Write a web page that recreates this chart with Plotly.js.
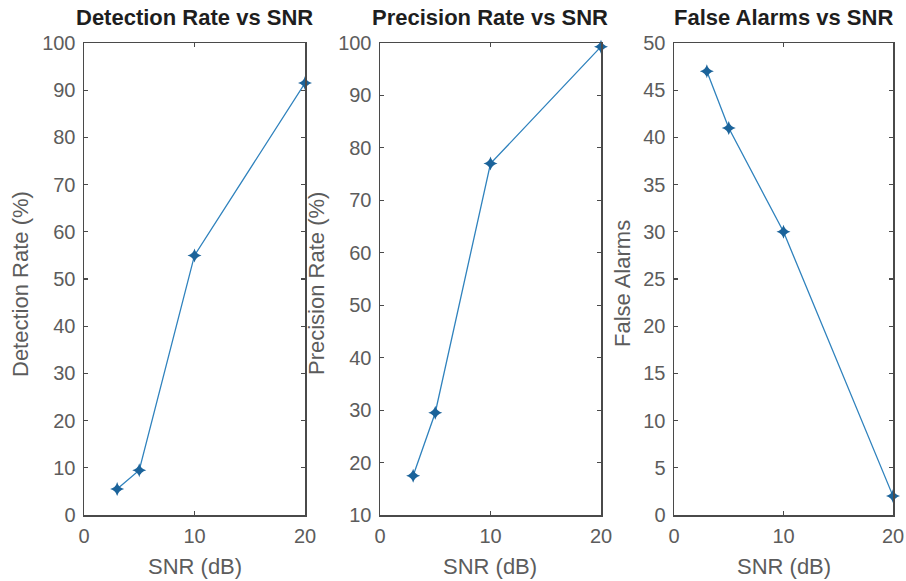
<!DOCTYPE html>
<html>
<head>
<meta charset="utf-8">
<script src="https://cdn.plot.ly/plotly-3.0.1.min.js"></script>
<style>
html, body { margin: 0; padding: 0; background: #fff; }
#chart { width: 906px; height: 581px; }
</style>
</head>
<body>
<div id="chart"></div>
<script>
// ---- data ----
const snr = [3, 5, 10, 20];
const detectionRate = [5.5, 9.5, 55, 91.5];
const precisionRate = [17.5, 29.5, 77, 99.3];
const falseAlarms = [47, 41, 30, 2];

const panelTitles = ["Detection Rate vs SNR", "Precision Rate vs SNR", "False Alarms vs SNR"];
const yTitles = ["Detection Rate (%)", "Precision Rate (%)", "False Alarms"];
const xTitle = "SNR (dB)";
const xTicks = [0, 10, 20];

const FONT = "Liberation Sans, Arial, Helvetica, sans-serif";
const lineColor = "#2f82bd";
const markerColor = "#1b639a";
const tickColor = "#5c5c5c";
const frameColor = "#4a4a4a";

function trace(y, xa, ya) {
  return {
    x: snr, y: y, xaxis: xa, yaxis: ya,
    type: "scatter", mode: "lines+markers",
    line: { color: lineColor, width: 1.3 },
    marker: { symbol: "star-diamond", size: 10, color: markerColor },
    cliponaxis: false, showlegend: false, hoverinfo: "x+y"
  };
}

const data = [
  trace(detectionRate, "x", "y"),
  trace(precisionRate, "x2", "y2"),
  trace(falseAlarms, "x3", "y3")
];

function xaxis(domain, anchor) {
  return {
    domain: domain, anchor: anchor, range: [0, 20],
    tickvals: xTicks, ticks: "inside", ticklen: 4, tickwidth: 1.2, tickcolor: frameColor,
    showline: true, linecolor: frameColor, linewidth: 1.5, mirror: "ticks",
    showgrid: false, zeroline: false,
    tickfont: { family: FONT, size: 20, color: tickColor },
    ticklabelstandoff: 2
  };
}
function yaxis(domain, anchor, range, dtick) {
  return {
    domain: domain, anchor: anchor, range: range, dtick: dtick, tick0: 0,
    ticks: "inside", ticklen: 4, tickwidth: 1.2, tickcolor: frameColor,
    showline: true, linecolor: frameColor, linewidth: 1.5, mirror: "ticks",
    showgrid: false, zeroline: false,
    tickfont: { family: FONT, size: 20, color: tickColor },
    ticklabelstandoff: 3
  };
}

const W = 906, H = 581;
const yDom = [66 / H, 538 / H];
const xDoms = [[84 / W, 305 / W], [380 / W, 601 / W], [674 / W, 893 / W]];

const annotations = [];
panelTitles.forEach((t, i) => {
  annotations.push({
    text: "<b>" + t + "</b>", xref: "paper", yref: "paper",
    x: (xDoms[i][0] + xDoms[i][1]) / 2, y: 1 - 18 / H,
    xanchor: "center", yanchor: "middle", showarrow: false,
    font: { family: FONT, size: 22, color: "#1e1e1e" }
  });
  annotations.push({
    text: xTitle, xref: "paper", yref: "paper",
    x: (xDoms[i][0] + xDoms[i][1]) / 2, y: 1 - 566 / H,
    xanchor: "center", yanchor: "middle", showarrow: false,
    font: { family: FONT, size: 22, color: tickColor }
  });
});
const yTitleX = [20, 316, 622];
yTitles.forEach((t, i) => {
  annotations.push({
    text: t, xref: "paper", yref: "paper",
    x: yTitleX[i] / W, y: 1 - 284 / H, textangle: -90,
    xanchor: "center", yanchor: "middle", showarrow: false,
    font: { family: FONT, size: 22, color: tickColor }
  });
});

const layout = {
  width: W, height: H,
  margin: { l: 0, r: 0, t: 0, b: 0 },
  paper_bgcolor: "#ffffff", plot_bgcolor: "#ffffff",
  xaxis: xaxis(xDoms[0], "y"),
  yaxis: yaxis(yDom, "x", [0, 100], 10),
  xaxis2: xaxis(xDoms[1], "y2"),
  yaxis2: yaxis(yDom, "x2", [10, 100], 10),
  xaxis3: xaxis(xDoms[2], "y3"),
  yaxis3: yaxis(yDom, "x3", [0, 50], 5),
  annotations: annotations,
  font: { family: FONT }
};

Plotly.newPlot("chart", data, layout, { displayModeBar: false, staticPlot: true });
</script>
</body>
</html>
